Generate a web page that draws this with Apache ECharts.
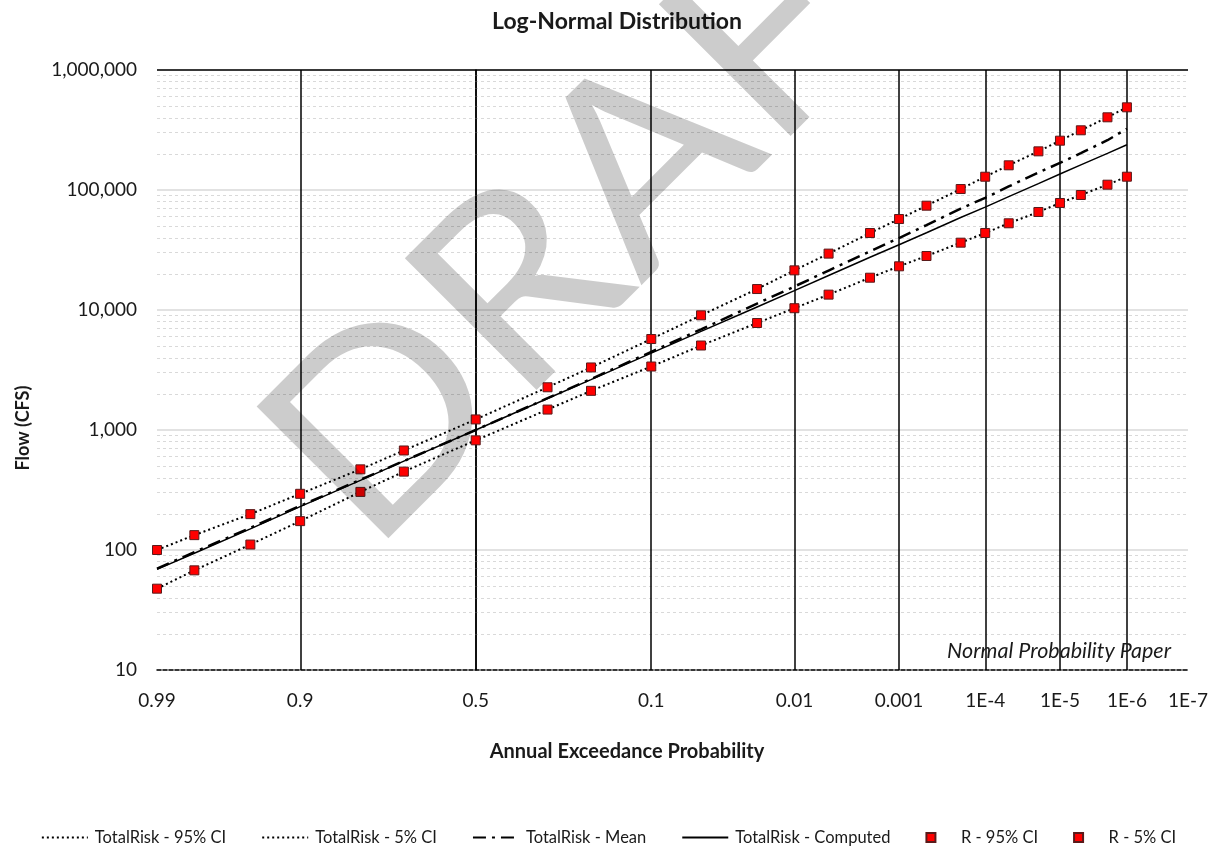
<!DOCTYPE html>
<html>
<head>
<meta charset="utf-8">
<title>Log-Normal Distribution</title>
<script src="https://cdn.jsdelivr.net/npm/echarts@6.0.0/dist/echarts.min.js"></script>
<style>
  html, body { margin: 0; padding: 0; background: #fff; }
  #chart { width: 1217px; height: 846px; }
</style>
</head>
<body>
<div id="chart"></div>
<script>
// annual exceedance probabilities of the plotted frequency points
const probs = [0.99, 0.98, 0.95, 0.9, 0.8, 0.7, 0.5, 0.3, 0.2, 0.1, 0.05, 0.02, 0.01,
  0.005, 0.002, 0.001, 0.0005, 0.0002, 0.0001, 0.00005, 0.00002, 0.00001,
  0.000005, 0.000002, 0.000001];

// flows (cfs)
const upper95 = [100, 133, 199, 294, 470, 675, 1225, 2270, 3320, 5730, 9030, 14950, 21400,
  29500, 43800, 57300, 74000, 101900, 129000, 160600, 210000, 257600, 314500, 403500, 488700];
const lower5 = [47.6, 67.7, 111, 174, 305, 450, 820, 1480, 2120, 3380, 5060, 7790, 10350,
  13430, 18580, 23130, 28180, 36390, 43840, 52790, 65570, 77940, 90850, 110700, 129100];
const meanFlow = [70, 96, 153, 233, 385, 552, 1000, 1840, 2660, 4480, 6900, 11300, 15700,
  21300, 30800, 39800, 51000, 70000, 86000, 107000, 140000, 168000, 203000, 260000, 324000];
const computedFlow = [69, 94, 150, 230, 380, 550, 1000, 1830, 2630, 4370, 6640, 10600, 14500,
  19400, 27500, 35000, 44000, 59000, 72000, 88000, 113000, 136000, 162000, 202000, 238000];

// x axis ticks (probability paper)
const tickProbs = [0.99, 0.9, 0.5, 0.1, 0.01, 0.001, 1e-4, 1e-5, 1e-6, 1e-7];
const tickLabels = ['0.99', '0.9', '0.5', '0.1', '0.01', '0.001', '1E-4', '1E-5', '1E-6', '1E-7'];
const minorSteps = [2, 3, 4, 5, 6, 7, 8, 9];
const decades = [10, 100, 1000, 10000, 100000];

// inverse standard normal cdf (Acklam)
function normInv(p) {
  const a = [-3.969683028665376e+01, 2.209460984245205e+02, -2.759285104469687e+02,
    1.383577518672690e+02, -3.066479806614716e+01, 2.506628277459239e+00];
  const b = [-5.447609879822406e+01, 1.615858368580409e+02, -1.556989798598866e+02,
    6.680131188771972e+01, -1.328068155288572e+01];
  const c = [-7.784894002430293e-03, -3.223964580411365e-01, -2.400758277161838e+00,
    -2.549732539343734e+00, 4.374664141464968e+00, 2.938163982698783e+00];
  const d = [7.784695709041462e-03, 3.224671290700398e-01, 2.445134137142996e+00,
    3.754408661907416e+00];
  const pl = 0.02425;
  let q, r;
  if (p < pl) {
    q = Math.sqrt(-2 * Math.log(p));
    return (((((c[0] * q + c[1]) * q + c[2]) * q + c[3]) * q + c[4]) * q + c[5]) /
      ((((d[0] * q + d[1]) * q + d[2]) * q + d[3]) * q + 1);
  }
  if (p > 1 - pl) {
    q = Math.sqrt(-2 * Math.log(1 - p));
    return -(((((c[0] * q + c[1]) * q + c[2]) * q + c[3]) * q + c[4]) * q + c[5]) /
      ((((d[0] * q + d[1]) * q + d[2]) * q + d[3]) * q + 1);
  }
  q = p - 0.5;
  r = q * q;
  return (((((a[0] * r + a[1]) * r + a[2]) * r + a[3]) * r + a[4]) * r + a[5]) * q /
    (((((b[0] * r + b[1]) * r + b[2]) * r + b[3]) * r + b[4]) * r + 1);
}

// exceedance probability -> position on normal probability paper
function zOf(aep) {
  return -normInv(aep);
}

const tickZ = tickProbs.map(zOf);
const pairs = (vals) => probs.map((p, i) => [zOf(p), vals[i]]);

// grid lines drawn as marklines (minor log lines + heavy probability lines)
const gridLines = [];
decades.forEach(dec => {
  minorSteps.forEach(m => {
    gridLines.push({ yAxis: dec * m, lineStyle: { color: '#d9d9d9', width: 1, type: [3, 3] } });
  });
});
gridLines.push({ yAxis: 1000000, lineStyle: { color: '#000', width: 1.5, type: 'solid' } });
tickZ.forEach((z, i) => {
  gridLines.push({
    xAxis: z,
    lineStyle: { color: i === tickZ.length - 1 ? '#404040' : '#000', width: 1.5, type: 'solid' }
  });
});

const textColor = '#1a1a1a';
const font = 'Lato';
const squareIcon = 'path://M0,0L10,0L10,10L0,10Z';

const chart = echarts.init(document.getElementById('chart'));

chart.setOption({
  animation: false,
  title: {
    text: 'Log-Normal Distribution',
    left: 617,
    top: 10,
    padding: 0,
    textAlign: 'center',
    textStyle: { fontFamily: font, fontSize: 23, fontWeight: 'bold', color: textColor }
  },
  grid: { left: 157, right: 29, top: 70, bottom: 176 },
  legend: {
    data: [
      { name: 'TotalRisk - 95% CI', itemStyle: { opacity: 0 } },
      { name: 'TotalRisk - 5% CI', itemStyle: { opacity: 0 } },
      { name: 'TotalRisk - Mean', itemStyle: { opacity: 0 } },
      { name: 'TotalRisk - Computed', itemStyle: { opacity: 0 } },
      { name: 'R - 95% CI', icon: squareIcon },
      { name: 'R - 5% CI', icon: squareIcon }
    ],
    left: 'center',
    top: 824,
    itemWidth: 46,
    itemHeight: 9,
    itemGap: 35,
    symbolKeepAspect: true,
    textStyle: { fontFamily: font, fontSize: 16.5, color: textColor, padding: [0, 0, 0, 2] }
  },
  xAxis: {
    type: 'value',
    min: zOf(0.99),
    max: zOf(1e-7),
    axisLine: { onZero: false, lineStyle: { color: '#000', width: 1.5, type: [4, 2] } },
    axisTick: { show: false, customValues: tickZ },
    axisLabel: {
      customValues: tickZ,
      margin: 21,
      fontFamily: font,
      fontSize: 19,
      color: textColor,
      formatter: (v) => {
        let best = 0;
        tickZ.forEach((z, i) => {
          if (Math.abs(z - v) < Math.abs(tickZ[best] - v)) best = i;
        });
        return tickLabels[best];
      }
    },
    splitLine: { show: false }
  },
  yAxis: {
    type: 'log',
    logBase: 10,
    min: 10,
    max: 1000000,
    axisLine: { show: true, lineStyle: { color: '#000', width: 1.5 } },
    axisTick: { show: false },
    axisLabel: {
      margin: 20,
      fontFamily: font,
      fontSize: 19,
      color: textColor,
      formatter: (v) => String(Math.round(v)).replace(/\B(?=(\d{3})+(?!\d))/g, ',')
    },
    splitLine: { lineStyle: { color: '#d9d9d9', width: 1.5 } }
  },
  graphic: [
    {
      type: 'text',
      x: 23,
      y: 428,
      rotation: Math.PI / 2,
      style: {
        text: 'Flow (CFS)', fontFamily: font, fontSize: 18, fontWeight: 'bold',
        fill: textColor, align: 'center', verticalAlign: 'middle'
      }
    },
    {
      type: 'text',
      x: 627,
      y: 752,
      style: {
        text: 'Annual Exceedance Probability', fontFamily: font, fontSize: 20, fontWeight: 'bold',
        fill: textColor, align: 'center', verticalAlign: 'middle'
      }
    },
    {
      type: 'text',
      x: 1171,
      y: 651,
      z: 50,
      style: {
        text: 'Normal Probability Paper', fontFamily: font, fontSize: 21.5, fontStyle: 'italic',
        fill: textColor, align: 'right', verticalAlign: 'middle'
      }
    },
    {
      // watermark sits above everything, semi transparent
      type: 'text',
      x: 625,
      y: 183,
      rotation: Math.PI / 4,
      scaleX: 1.06,
      z: 100,
      silent: true,
      style: {
        text: 'DRAFT', fontFamily: font, fontSize: 260,
        fill: 'rgba(0,0,0,0.2)', align: 'center', verticalAlign: 'middle'
      }
    }
  ],
  series: [
    {
      name: 'grid',
      type: 'line',
      data: [],
      silent: true,
      markLine: {
        z: 1,
        silent: true,
        symbol: 'none',
        label: { show: false },
        animation: false,
        data: gridLines
      }
    },
    {
      name: 'TotalRisk - 95% CI',
      type: 'line',
      data: pairs(upper95),
      symbol: 'none',
      lineStyle: { color: '#000', width: 2, type: [2, 3] },
      itemStyle: { color: '#000' },
      z: 3
    },
    {
      name: 'TotalRisk - 5% CI',
      type: 'line',
      data: pairs(lower5),
      symbol: 'none',
      lineStyle: { color: '#000', width: 2, type: [2, 3] },
      itemStyle: { color: '#000' },
      z: 3
    },
    {
      name: 'TotalRisk - Mean',
      type: 'line',
      data: pairs(meanFlow),
      symbol: 'none',
      lineStyle: { color: '#000', width: 2.5, type: [13, 6, 3, 6] },
      itemStyle: { color: '#000' },
      z: 3
    },
    {
      name: 'TotalRisk - Computed',
      type: 'line',
      data: pairs(computedFlow),
      symbol: 'none',
      lineStyle: { color: '#000', width: 1.5 },
      itemStyle: { color: '#000' },
      z: 3
    },
    {
      name: 'R - 95% CI',
      type: 'scatter',
      data: pairs(upper95),
      symbol: 'rect',
      symbolSize: 9,
      itemStyle: { color: '#ff0000', borderColor: '#5a1a1a', borderWidth: 1, opacity: 1 },
      z: 4
    },
    {
      name: 'R - 5% CI',
      type: 'scatter',
      data: pairs(lower5),
      symbol: 'rect',
      symbolSize: 9,
      itemStyle: { color: '#ff0000', borderColor: '#5a1a1a', borderWidth: 1, opacity: 1 },
      z: 4
    }
  ]
});
</script>
</body>
</html>
